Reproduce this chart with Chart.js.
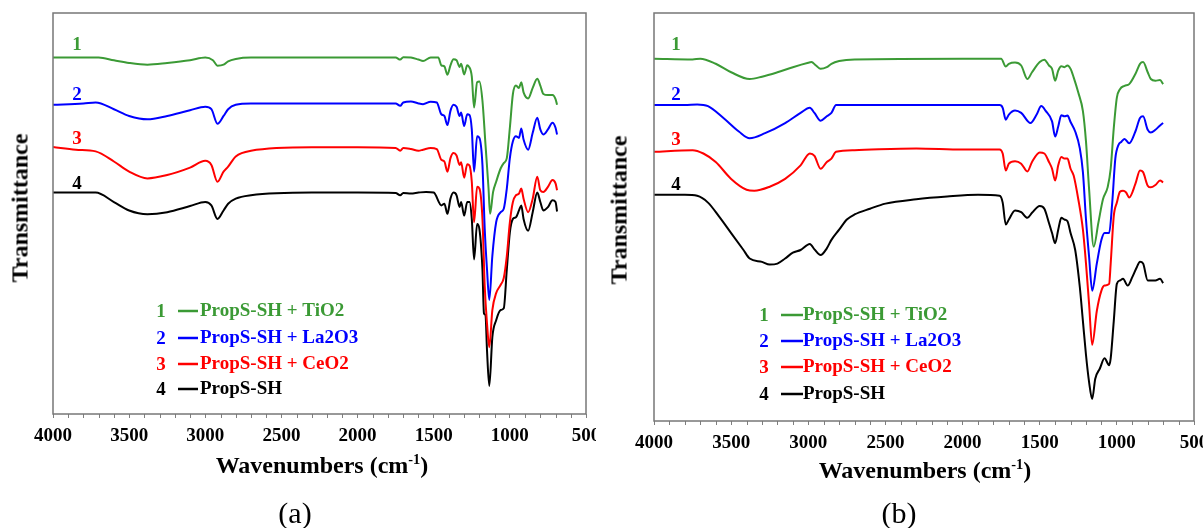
<!DOCTYPE html>
<html>
<head>
<meta charset="utf-8">
<script src="https://cdn.jsdelivr.net/npm/chart.js@4.4.1/dist/chart.umd.min.js"></script>
<style>
  html, body { margin: 0; padding: 0; background: #fff; }
  #wrap { position: relative; width: 1203px; height: 528px; overflow: hidden; background: #fff; }
  canvas { position: absolute; top: 0; }
  .lbl { position: absolute; transform: translate(-50%, -50%); white-space: nowrap;
         font-family: "Liberation Serif", "Times New Roman", serif; color: #000; }
  .ytitle { font-weight: bold; font-size: 24px; transform: translate(-50%, -50%) rotate(-90deg); }
  .xtitle { font-weight: bold; font-size: 24px; }
  .xtitle sup { font-size: 0.6em; vertical-align: 0.6em; line-height: 0; }
  .cap { font-size: 30px; }
</style>
</head>
<body>
<div id="wrap">
  <canvas id="ca" width="596" height="528" style="left:0px"></canvas>
  <canvas id="cb" width="603" height="528" style="left:600px"></canvas>
  <div class="lbl ytitle" style="left:20px; top:208px;">Transmittance</div>
  <div class="lbl ytitle" style="left:619px; top:210px;">Transmittance</div>
  <div class="lbl xtitle" style="left:322px; top:465px;">Wavenumbers (cm<sup>-1</sup>)</div>
  <div class="lbl xtitle" style="left:925px; top:470px;">Wavenumbers (cm<sup>-1</sup>)</div>
  <div class="lbl cap" style="left:295px; top:513px;">(a)</div>
  <div class="lbl cap" style="left:899px; top:513px;">(b)</div>
</div>
<script>
// ---------------- DATA ----------------
const seriesNames = ['PropS-SH + TiO2', 'PropS-SH + La2O3', 'PropS-SH + CeO2', 'PropS-SH'];
const seriesNumbers = ['1', '2', '3', '4'];
const xTickValues = [4000, 3500, 3000, 2500, 2000, 1500, 1000, 500];

// Panel (a)
const a1_wn = [4000,3700,3600,3500,3380,3250,3100,3000,2950,2920,2880,2850,2800,2700,2000,1750,1720,1700,1650,1600,1570,1520,1470,1450,1430,1410,1390,1370,1350,1330,1320,1300,1280,1270,1250,1235,1215,1200,1180,1160,1140,1130,1110,1090,1060,1040,1020,1000,980,960,940,925,910,880,850,820,800,780,750,720,700,690];
const a1_T  = [105.6,105.6,104.8,104.0,103.5,104.0,104.8,105.6,104.8,103.2,103.5,104.5,105.2,105.6,105.6,105.6,105.0,105.7,105.6,105.0,104.6,105.6,105.6,103.3,103.0,100.5,103.3,105.1,104.8,102.8,103.8,100.6,103.3,103.0,100.0,90.8,98.3,98.5,92.8,79.8,66.8,59.3,65.8,68.8,72.8,74.3,75.8,84.8,94.8,97.3,96.6,98.3,95.3,93.5,96.6,99.3,97.3,94.8,94.5,94.5,93.3,91.6];

const a2_wn = [4000,3800,3720,3600,3500,3380,3250,3100,3000,2960,2920,2880,2850,2800,2700,2000,1750,1720,1700,1650,1600,1570,1520,1480,1450,1430,1410,1390,1370,1350,1330,1320,1300,1280,1265,1250,1235,1215,1200,1180,1165,1150,1135,1115,1090,1060,1040,1020,1000,980,960,940,925,910,880,850,820,800,780,750,720,700,690];
const a2_T  = [91.6,92.0,92.3,90.3,88.3,87.3,88.3,90.0,91.0,90.3,86.0,88.3,90.3,91.6,92.0,92.0,92.0,91.3,92.3,92.6,92.0,91.8,92.5,92.3,88.8,88.3,85.6,89.8,91.6,91.0,88.3,89.3,85.3,88.8,88.6,84.3,71.8,82.3,81.8,73.8,54.8,42.8,33.8,46.8,56.8,59.8,60.8,66.8,75.8,80.8,82.3,81.8,84.6,81.3,78.3,83.3,87.8,84.3,82.8,84.3,86.3,84.8,82.8];

const a3_wn = [4000,3850,3720,3600,3500,3380,3250,3100,3000,2960,2920,2880,2850,2800,2700,2300,2000,1750,1720,1700,1650,1600,1570,1520,1480,1450,1430,1410,1390,1370,1350,1330,1320,1300,1280,1265,1250,1235,1215,1200,1180,1165,1150,1135,1115,1090,1060,1040,1020,1000,980,960,940,925,910,880,850,820,800,780,750,720,700,690];
const a3_T  = [79.1,78.3,77.8,74.8,71.8,69.8,70.8,73.0,75.0,73.8,68.8,71.8,73.3,76.3,78.0,79.0,79.0,78.8,78.0,78.8,78.5,78.0,78.3,78.8,78.5,75.3,74.8,71.8,75.8,77.3,76.6,73.8,74.6,70.0,74.0,73.6,68.8,56.8,67.3,66.8,57.8,37.8,26.8,19.8,30.8,35.8,38.3,40.3,46.8,56.8,62.8,64.8,65.3,66.8,63.8,59.8,63.8,70.3,66.3,65.8,67.3,69.3,68.3,66.3];

const a4_wn = [4000,3800,3720,3600,3500,3380,3250,3100,3000,2960,2920,2880,2850,2800,2700,2300,2000,1750,1720,1700,1650,1600,1550,1500,1450,1430,1410,1390,1370,1350,1330,1320,1300,1280,1265,1250,1235,1215,1200,1180,1170,1160,1150,1135,1115,1090,1060,1040,1020,1000,980,960,940,925,910,880,850,820,800,780,750,720,700,690];
const a4_T  = [65.6,65.6,65.6,62.8,60.3,59.2,59.8,61.6,62.8,61.8,57.8,60.3,62.3,63.8,64.8,65.6,65.6,65.5,64.8,65.5,65.3,65.6,65.8,65.6,61.8,62.3,59.3,63.8,65.6,64.8,61.3,62.8,58.8,62.8,62.8,57.8,45.8,56.3,54.8,42.8,29.8,29.3,18.8,8.3,22.8,27.8,30.8,31.3,42.8,53.8,57.8,58.3,60.3,61.8,57.8,54.3,59.8,65.6,62.8,60.3,61.3,63.3,62.8,60.0];

// Panel (b)
const b1_wn = [4000,3750,3700,3600,3500,3380,3300,3200,3100,3000,2980,2950,2920,2880,2850,2800,2700,2000,1750,1720,1700,1660,1620,1580,1550,1500,1470,1440,1420,1400,1380,1360,1340,1320,1300,1280,1250,1220,1200,1180,1150,1120,1090,1060,1040,1020,1000,980,950,920,880,850,830,800,780,750,720,700];
const b1_T  = [107.0,106.8,107.0,105.5,103.0,101.0,101.7,103.0,104.5,105.8,106.0,105.0,104.0,104.5,105.5,106.3,106.8,107.0,107.0,104.7,105.5,105.9,105.0,101.0,103.0,106.0,106.7,105.0,104.0,100.5,103.5,104.8,104.5,105.0,104.0,101.5,97.0,91.5,82.5,68.5,51.5,58.5,65.5,69.0,74.5,86.5,95.5,98.0,99.0,99.5,102.5,105.5,106.0,103.0,101.0,100.5,100.7,99.5];

const b2_wn = [4000,3800,3720,3650,3550,3450,3380,3280,3150,3050,2990,2960,2920,2880,2850,2820,2700,2000,1760,1740,1720,1700,1660,1620,1560,1520,1490,1460,1420,1400,1380,1360,1340,1320,1300,1270,1240,1220,1200,1180,1160,1130,1100,1080,1050,1030,1010,990,970,950,920,880,850,830,800,780,750,720,700];
const b2_T  = [93.3,93.3,93.5,93.0,89.5,85.5,83.5,85.0,88.0,91.0,92.5,91.0,88.7,90.0,91.0,93.3,93.3,93.3,93.3,92.5,89.0,90.5,91.7,91.0,88.0,90.5,93.0,91.5,88.5,84.0,87.0,90.3,90.0,90.2,88.3,85.5,80.5,73.5,59.5,48.5,38.5,46.5,53.5,55.5,55.5,64.5,77.5,81.5,82.5,83.3,82.0,85.5,89.5,90.0,86.0,85.2,86.0,87.3,88.0];

const b3_wn = [4000,3750,3680,3600,3500,3400,3350,3250,3150,3050,2990,2960,2920,2880,2850,2820,2700,2300,2000,1760,1740,1720,1700,1660,1620,1580,1550,1500,1470,1440,1420,1400,1380,1360,1340,1320,1300,1280,1250,1220,1200,1180,1160,1130,1100,1080,1050,1040,1020,1000,980,960,940,920,880,850,830,800,780,750,720,700];
const b3_T  = [79.5,80.0,79.0,76.5,71.5,68.3,68.0,69.2,71.5,75.5,79.0,78.3,74.5,76.5,77.5,79.5,80.0,80.5,80.2,80.2,79.0,74.0,76.0,76.7,76.0,73.7,76.5,79.3,79.0,76.5,74.5,71.0,75.5,78.0,77.5,77.5,74.5,72.5,65.5,56.5,46.5,34.5,22.5,32.5,38.5,40.0,40.5,46.5,60.5,64.5,67.7,68.0,67.5,66.0,70.0,74.0,73.5,69.5,69.0,69.7,71.0,70.5];

const b4_wn = [4000,3800,3720,3650,3580,3500,3420,3380,3300,3250,3200,3150,3100,3050,2990,2960,2920,2880,2850,2800,2750,2700,2600,2500,2300,2100,1900,1760,1740,1720,1700,1660,1620,1580,1550,1500,1470,1440,1420,1400,1380,1360,1340,1320,1300,1270,1240,1220,1200,1180,1160,1140,1110,1080,1050,1040,1020,1000,980,960,930,900,870,850,830,800,780,750,720,700];
const b4_T  = [66.8,66.8,66.5,64.5,60.5,55.5,50.5,48.0,47.0,46.2,46.5,48.0,49.7,50.5,52.3,50.7,49.0,51.0,53.5,56.5,59.5,61.0,62.7,64.2,65.5,66.3,66.8,66.5,64.5,58.0,59.5,62.2,61.7,60.0,61.5,63.5,62.7,58.5,55.5,52.5,56.5,60.0,59.5,59.0,55.5,50.5,39.5,29.5,19.5,11.5,6.5,12.5,15.5,18.5,16.5,18.5,29.5,40.5,41.5,42.0,40.0,42.5,45.5,47.0,46.5,41.5,41.5,41.5,42.0,40.7];

// ---------------- STYLE ----------------
const colors = ['#3b9a35', '#0000ff', '#ff0000', '#000000'];
const FONT = '"Liberation Serif", "Times New Roman", serif';

function pts(wn, t) { return wn.map((w, i) => ({ x: w, y: t[i] })); }

const decoPlugin = {
  id: 'deco',
  afterDraw(chart, args, o) {
    const { ctx, chartArea: ca, scales } = chart;
    const x = scales.x;
    ctx.save();
    // minor ticks
    ctx.strokeStyle = '#7f7f7f';
    ctx.lineWidth = 1;
    for (let v = x.min; v <= x.max; v += 100) {
      if (v % 500 === 0) continue;
      const px = Math.round(x.getPixelForValue(v)) + 0.5;
      ctx.beginPath(); ctx.moveTo(px, ca.bottom); ctx.lineTo(px, ca.bottom + 4); ctx.stroke();
    }
    // frame
    ctx.lineWidth = 1.5;
    ctx.strokeStyle = '#777';
    ctx.strokeRect(ca.left, ca.top, ca.right - ca.left, ca.bottom - ca.top);
    // curve numbers
    ctx.font = 'bold 19px ' + FONT;
    ctx.textBaseline = 'middle';
    ctx.textAlign = 'center';
    chart.data.datasets.forEach((ds, i) => {
      ctx.fillStyle = ds.borderColor;
      ctx.fillText(seriesNumbers[i], o.numX, o.numY[i]);
    });
    // legend
    chart.data.datasets.forEach((ds, i) => {
      const y = o.legY[i];
      ctx.fillStyle = ds.borderColor;
      ctx.textAlign = 'center';
      ctx.fillText(seriesNumbers[i], o.legNumX, y + 1);
      ctx.strokeStyle = ds.borderColor;
      ctx.lineWidth = 2.5;
      ctx.beginPath(); ctx.moveTo(o.legLine[0], y); ctx.lineTo(o.legLine[1], y); ctx.stroke();
      ctx.textAlign = 'left';
      ctx.fillText(ds.label, o.legTextX, y);
    });
    ctx.restore();
  }
};

function makeChart(id, sets, ymax, pad, deco) {
  return new Chart(document.getElementById(id), {
    type: 'line',
    data: {
      datasets: sets.map((s, i) => ({
        label: seriesNames[i],
        data: pts(s[0], s[1]),
        borderColor: colors[i],
        backgroundColor: colors[i],
        borderWidth: 2,
        pointRadius: 0,
        fill: false,
        cubicInterpolationMode: 'monotone'
      }))
    },
    options: {
      responsive: false,
      animation: false,
      devicePixelRatio: 1,
      layout: { autoPadding: false, padding: pad },
      plugins: { legend: { display: false }, tooltip: { enabled: false }, deco: deco },
      scales: {
        x: {
          type: 'linear', min: 500, max: 4000, reverse: true,
          afterBuildTicks: (scale) => { scale.ticks = xTickValues.map(v => ({ value: v })); },
          afterFit: (scale) => { scale.height = 30; scale.paddingLeft = 0; scale.paddingRight = 0; },
          border: { display: false },
          grid: { drawOnChartArea: false, drawTicks: true, tickLength: 4, color: '#7f7f7f', lineWidth: 1 },
          ticks: { color: '#000', padding: 7, maxRotation: 0, autoSkip: false,
                   font: { family: FONT, size: 19, weight: 'bold' },
                   callback: (v) => String(v) }
        },
        y: { type: 'linear', display: false, min: 0, max: ymax }
      }
    },
    plugins: [decoPlugin]
  });
}

makeChart('ca', [[a1_wn, a1_T], [a2_wn, a2_T], [a3_wn, a3_T], [a4_wn, a4_T]], 118.8,
  { left: 53, right: 10, top: 13, bottom: 84 },
  { numX: 77, numY: [45, 95, 139, 184], legNumX: 161, legLine: [178, 198], legTextX: 200, legY: [311, 338, 364, 389] });

makeChart('cb', [[b1_wn, b1_T], [b2_wn, b2_T], [b3_wn, b3_T], [b4_wn, b4_T]], 120.5,
  { left: 54, right: 9, top: 13, bottom: 77 },
  { numX: 76, numY: [45, 95, 140, 185], legNumX: 164, legLine: [181, 203], legTextX: 203, legY: [315, 341, 367, 394] });
</script>
</body>
</html>
